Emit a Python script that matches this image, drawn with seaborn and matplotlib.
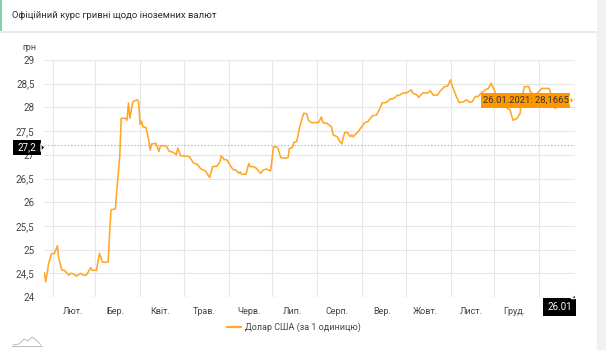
import matplotlib
matplotlib.use("Agg")
import matplotlib.pyplot as plt
from matplotlib.patches import Rectangle, Polygon
from matplotlib.lines import Line2D
import pandas as pd
import seaborn as sns

# ---------------- data ----------------
title = "Офіційний курс гривні щодо іноземних валют"
series_name = "Долар США (за 1 одиницю)"
unit_label = "грн"
month_labels = ["Лют.", "Бер.", "Квіт.", "Трав.", "Черв.", "Лип.", "Серп.",
                "Вер.", "Жовт.", "Лист.", "Груд."]
y_ticks = [24, 24.5, 25, 25.5, 26, 26.5, 27, 27.5, 28, 28.5, 29]
y_tick_labels = ["24", "24,5", "25", "25,5", "26", "26,5", "27", "27,5", "28", "28,5", "29"]
crosshair_value = 27.2
crosshair_value_label = "27,2"
crosshair_date_label = "26.01"
tooltip_text = "26.01.2021: 28,1665"

dates = [
    "2020-01-26", "2020-01-27", "2020-01-29", "2020-01-31", "2020-02-02", "2020-02-04",
    "2020-02-05", "2020-02-07", "2020-02-09", "2020-02-12", "2020-02-13", "2020-02-15",
    "2020-02-17", "2020-02-20", "2020-02-22", "2020-02-24", "2020-02-27", "2020-02-28",
    "2020-03-02", "2020-03-04", "2020-03-06", "2020-03-08", "2020-03-10", "2020-03-11",
    "2020-03-12", "2020-03-15", "2020-03-16", "2020-03-18", "2020-03-19", "2020-03-22",
    "2020-03-23", "2020-03-24", "2020-03-25", "2020-03-27", "2020-03-30", "2020-03-31",
    "2020-04-01", "2020-04-02", "2020-04-03", "2020-04-05", "2020-04-07", "2020-04-08",
    "2020-04-09", "2020-04-12", "2020-04-14", "2020-04-15", "2020-04-19", "2020-04-21",
    "2020-04-24", "2020-04-26", "2020-04-27", "2020-04-29", "2020-05-03", "2020-05-05",
    "2020-05-08", "2020-05-10", "2020-05-13", "2020-05-16", "2020-05-19", "2020-05-21",
    "2020-05-24", "2020-05-26", "2020-05-27", "2020-05-29", "2020-05-31", "2020-06-02",
    "2020-06-04", "2020-06-06", "2020-06-08", "2020-06-09", "2020-06-10", "2020-06-13",
    "2020-06-15", "2020-06-16", "2020-06-18", "2020-06-20", "2020-06-23", "2020-06-25",
    "2020-06-27", "2020-06-30", "2020-07-02", "2020-07-04", "2020-07-05", "2020-07-07",
    "2020-07-10", "2020-07-12", "2020-07-13", "2020-07-15", "2020-07-16", "2020-07-18",
    "2020-07-20", "2020-07-22", "2020-07-23", "2020-07-25", "2020-07-26", "2020-07-28",
    "2020-07-31", "2020-08-02", "2020-08-04", "2020-08-05", "2020-08-08", "2020-08-11",
    "2020-08-12", "2020-08-15", "2020-08-16", "2020-08-18", "2020-08-20", "2020-08-22",
    "2020-08-24", "2020-08-25", "2020-08-26", "2020-08-28", "2020-08-29", "2020-08-31",
    "2020-09-03", "2020-09-05", "2020-09-08", "2020-09-11", "2020-09-13", "2020-09-15",
    "2020-09-17", "2020-09-18", "2020-09-20", "2020-09-23", "2020-09-25", "2020-09-27",
    "2020-09-29", "2020-10-02", "2020-10-05", "2020-10-06", "2020-10-09", "2020-10-10",
    "2020-10-13", "2020-10-16", "2020-10-18", "2020-10-20", "2020-10-23", "2020-10-25",
    "2020-10-28", "2020-10-30", "2020-11-01", "2020-11-02", "2020-11-05", "2020-11-07",
    "2020-11-10", "2020-11-12", "2020-11-14", "2020-11-16", "2020-11-18", "2020-11-20",
    "2020-11-22", "2020-11-25", "2020-11-27", "2020-11-29", "2020-11-30", "2020-12-05",
    "2020-12-09", "2020-12-12", "2020-12-14", "2020-12-17", "2020-12-19", "2020-12-20",
    "2020-12-22", "2020-12-25", "2020-12-26", "2020-12-29", "2021-01-03", "2021-01-08",
    "2021-01-10", "2021-01-12", "2021-01-16", "2021-01-21", "2021-01-26",
]
values = [
    24.51, 24.32, 24.71, 24.91, 24.92, 25.08,
    24.82, 24.57, 24.56, 24.46, 24.50, 24.49,
    24.44, 24.50, 24.46, 24.46, 24.62, 24.56,
    24.57, 24.92, 24.74, 24.73, 24.74, 25.34,
    25.84, 25.86, 26.26, 26.96, 27.77, 27.77,
    27.73, 28.09, 27.77, 28.12, 28.16, 28.12,
    27.64, 27.71, 27.59, 27.58, 27.31, 27.10,
    27.23, 27.24, 27.07, 27.19, 27.19, 27.08,
    27.05, 27.00, 27.14, 26.98, 26.97, 26.96,
    26.82, 26.81, 26.70, 26.66, 26.52, 26.75,
    26.76, 26.85, 26.98, 26.90, 26.89, 26.78,
    26.69, 26.68, 26.61, 26.64, 26.59, 26.59,
    26.82, 26.75, 26.75, 26.72, 26.61, 26.68,
    26.70, 26.66, 27.17, 27.17, 27.14, 26.94,
    26.93, 26.94, 27.14, 27.15, 27.26, 27.28,
    27.59, 27.80, 27.88, 27.86, 27.73, 27.68,
    27.68, 27.68, 27.80, 27.68, 27.66, 27.59,
    27.42, 27.38, 27.31, 27.23, 27.47, 27.47,
    27.38, 27.42, 27.38, 27.45, 27.47, 27.56,
    27.68, 27.70, 27.82, 27.84, 27.96, 28.10,
    28.10, 28.11, 28.17, 28.19, 28.25, 28.26,
    28.30, 28.31, 28.37, 28.30, 28.26, 28.21,
    28.31, 28.30, 28.35, 28.26, 28.26, 28.35,
    28.44, 28.45, 28.58, 28.47, 28.23, 28.10,
    28.12, 28.16, 28.11, 28.12, 28.23, 28.23,
    28.30, 28.37, 28.40, 28.51, 28.44, 28.10,
    28.00, 27.95, 27.73, 27.77, 27.88, 28.20,
    28.44, 28.44, 28.33, 28.25, 28.40, 28.40,
    28.20, 27.98, 28.05, 28.12, 28.1665,
]

df = pd.DataFrame({"date": pd.to_datetime(dates), "value": values})
df["series"] = series_name

# ---------------- style ----------------
sns.set_style("white")
plt.rcParams["font.family"] = ["Roboto", "DejaVu Sans"]

W, H = 606, 350
fig = plt.figure(figsize=(W / 100, H / 100), dpi=100)
fig.patch.set_facecolor("white")


def px(x, y):
    return (x / W, 1 - y / H)


# page decoration
fig.add_artist(Rectangle(px(597, H), 9 / W, 1, transform=fig.transFigure,
                         color="#f1f1f1", zorder=0))
fig.add_artist(Rectangle(px(0, 31), 597 / W, 31 / H, transform=fig.transFigure,
                         facecolor="white", edgecolor="none", zorder=1))
fig.add_artist(Line2D([0, 597 / W], [px(0, 31.5)[1]] * 2, transform=fig.transFigure,
                      color="#e6e6e6", lw=1.2, zorder=1))
fig.add_artist(Rectangle(px(0, 31), 2 / W, 31 / H, transform=fig.transFigure,
                         facecolor="#7fd4aa", edgecolor="none", zorder=2))
fig.text(*px(12, 16), title, fontsize=6.8, color="#2b2b2b", va="center", ha="left")

# axes
left, right, top, bottom = 44.3, 575.3, 60, 297
ax = fig.add_axes([left / W, (H - bottom) / H, (right - left) / W, (bottom - top) / H])
ax.set_facecolor("none")

sns.lineplot(data=df, x="date", y="value", hue="series", palette=["#ffa726"],
             linewidth=1.15, ax=ax)

start, end = df["date"].iloc[0], df["date"].iloc[-1]
ax.set_xlim(start, end)
ax.set_ylim(24, 29)

month_starts = pd.date_range("2020-02-01", "2021-01-01", freq="MS")
mid_months = [pd.Timestamp(f"2020-{m:02d}-15") for m in range(2, 13)]
ax.set_xticks(month_starts)
ax.set_xticklabels([""] * len(month_starts))
ax.set_xticks(mid_months, minor=True)
ax.set_xticklabels(month_labels, minor=True)
ax.tick_params(axis="x", which="both", length=0, pad=7, labelsize=6.5, colors="#444444")

ax.set_yticks(y_ticks)
ax.set_yticklabels(y_tick_labels)
ax.tick_params(axis="y", length=4, width=0.8, color="#e6e6e6", pad=3,
               labelsize=7, labelcolor="#444444")

ax.grid(True, which="major", color="#e6e6e6", lw=0.8)
for s in ax.spines.values():
    s.set_visible(False)
ax.set_xlabel("")
ax.set_ylabel("")

# crosshair
ax.axhline(crosshair_value, color="#b0b0b0", lw=0.8, ls=(0, (1.2, 1.8)), zorder=1)
ax.axvline(end, color="#c8c8c8", lw=0.8, ls=(0, (1.2, 1.8)), zorder=1)

# legend
handles, labels = ax.get_legend_handles_labels()
leg = ax.legend(handles, labels, loc="center", bbox_to_anchor=px(294, 327),
                bbox_transform=fig.transFigure, frameon=False, fontsize=6.5,
                handlelength=1.5, handletextpad=0.5)
for t in leg.get_texts():
    t.set_color("#444444")
for l in leg.get_lines():
    l.set_linewidth(1.6)

fig.text(*px(22, 47), unit_label, fontsize=6.5, color="#444444", va="center", ha="left")

# y crosshair label
fig.add_artist(Rectangle(px(13, 155), 28 / W, 15 / H, transform=fig.transFigure,
                         facecolor="black", edgecolor="none", zorder=5))
fig.add_artist(Polygon([px(41, 143.5), px(45, 147.5), px(41, 151.5)], closed=True,
                       transform=fig.transFigure, facecolor="black", zorder=5))
fig.text(*px(27, 147.5), crosshair_value_label, fontsize=7, color="white",
         va="center", ha="center", zorder=6)

# x crosshair label
fig.add_artist(Rectangle(px(543, 316), 33 / W, 18 / H, transform=fig.transFigure,
                         facecolor="black", edgecolor="none", zorder=5))
fig.add_artist(Polygon([px(571, 298.5), px(575.5, 294), px(575.5, 298.5)], closed=True,
                       transform=fig.transFigure, facecolor="black", zorder=5))
fig.text(*px(559.5, 307), crosshair_date_label, fontsize=7, color="white",
         va="center", ha="center", zorder=6)

# tooltip
fig.add_artist(Rectangle(px(481, 107.5), 89 / W, 14.5 / H, transform=fig.transFigure,
                         facecolor="#ff9800", edgecolor="none", zorder=5))
fig.add_artist(Polygon([px(570, 96), px(574, 100.2), px(570, 104.5)], closed=True,
                       transform=fig.transFigure, facecolor="#ff9800", zorder=5))
fig.text(*px(525.5, 100.5), tooltip_text, fontsize=6.8, color="#333333",
         va="center", ha="center", zorder=6)

# small bottom-left icon
icon_pts = [(13, 345), (19, 344), (24, 339), (28, 341), (32, 337), (36, 340), (41, 345)]
fig.add_artist(Line2D([px(*p)[0] for p in icon_pts], [px(*p)[1] for p in icon_pts],
                      transform=fig.transFigure, color="#bbbbbb", lw=0.7))
fig.add_artist(Line2D([px(12, 346)[0], px(42, 346)[0]], [px(12, 346)[1]] * 2,
                      transform=fig.transFigure, color="#bbbbbb", lw=0.7))

fig.savefig("out.png", dpi=100)
